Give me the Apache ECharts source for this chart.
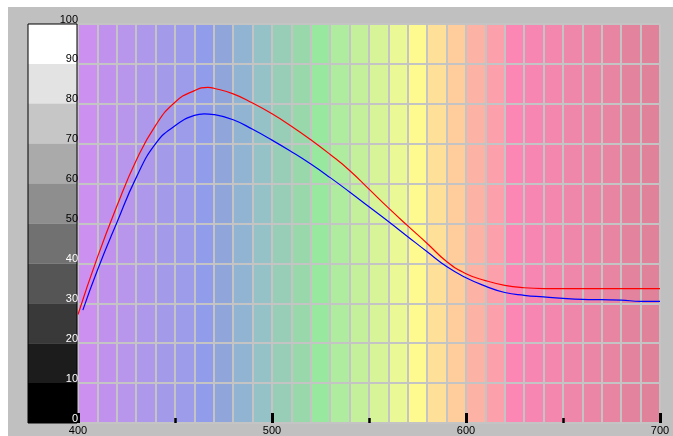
<!DOCTYPE html>
<html lang="en">
<head>
	<meta charset="UTF-8">
	<title>Spectrum</title>
	<style type="text/css">
		html, body{ margin:0; padding:0; background:#fff; }
		.box{ width:673px; height:436px; }
	</style>
</head>
<body>
	<div class="box" id="main"></div>
	<script type="text/javascript" src="https://cdn.jsdelivr.net/npm/echarts@6/dist/echarts.min.js"></script>
	<script type="text/javascript">
		// colour of each 10 nm column, 400..700
		var columnStart = [400,410,420,430,440,450,460,470,480,490,500,510,520,530,540,550,560,570,580,590,600,610,620,630,640,650,660,670,680,690];
		var columnColor = ['#cc90f0','#c092ee','#b796ec','#ad98ec','#a49aea','#9c9cea','#919cea','#90a6da','#90b4d2','#94c2c6',
			'#98ceb8','#98d8aa','#98e8a0','#b0eca0','#c4f09c','#d8f498','#eaf896','#fffa90','#ffe098','#ffcc9c',
			'#fdb2a6','#fca0ac','#fc86b4','#f787b2','#f387ae','#ef87aa','#eb86a6','#e785a2','#e3839e','#df829a'];
		// grey scale strip on the left, one band per 10 units
		var greyStart = [0,10,20,30,40,50,60,70,80,90];
		var greyColor = ['#000000','#1c1c1c','#393939','#555555','#717171','#8e8e8e','#aaaaaa','#c6c6c6','#e3e3e3','#ffffff'];

		// red curve
		var redWl  = [400,410,420,430,440,450,460,467,470,480,490,500,510,520,530,540,550,560,570,580,590,600,610,620,630,640,650,660,670,680,690,700];
		var redVal = [27.2,41.5,54.3,65.8,74.6,80.4,83.3,84.1,83.9,82.5,80.2,77.5,74.4,71,67.3,63.3,58.6,53.9,49.4,45,40.5,37.4,35.7,34.5,33.9,33.7,33.7,33.7,33.7,33.7,33.7,33.7];
		// blue curve
		var blueWl  = [402.5,410,420,430,440,450,460,465,470,480,490,500,510,520,530,540,550,560,570,580,590,600,610,620,630,640,650,660,670,680,690,700];
		var blueVal = [28.3,38.3,50.2,61.5,70,74.5,77.1,77.5,77.3,76,73.6,70.9,68,64.9,61.5,57.9,54.2,50.5,46.7,42.9,39.2,36.4,34.3,32.7,32,31.6,31.25,31,30.9,30.8,30.5,30.5];

		var myChart = echarts.init(document.getElementById('main'));

		function pairs(xs, ys){
			return xs.map(function (x, i){ return [x, ys[i]]; });
		}

		var columns = columnStart.map(function (s, i){
			return [{xAxis: s, itemStyle: {color: columnColor[i]}}, {xAxis: s + 10}];
		});
		var greys = greyStart.map(function (s, i){
			return [{xAxis: 0, yAxis: s, itemStyle: {color: greyColor[i]}}, {xAxis: 1, yAxis: s + 10}];
		});

		var font = "'Liberation Sans', sans-serif";

		var option = {
			animation: false,
			graphic: [{
				type: 'rect',
				z: -100,
				shape: {x: 8, y: 7, width: 665, height: 429},
				style: {fill: '#c0c0c0'}
			}],
			grid: [
				{left: 78, top: 24, width: 582, height: 400},
				{left: 28, top: 24, width: 49, height: 399, show: true, z: 4, borderColor: '#000', borderWidth: 1, backgroundColor: 'transparent'}
			],
			xAxis: [
				{
					gridIndex: 0, type: 'value', min: 400, max: 700, interval: 10, z: 3,
					axisLine: {show: false}, axisTick: {show: false}, axisLabel: {show: false},
					splitLine: {show: true, lineStyle: {color: '#c4c4c4', width: 2}}
				},
				{
					gridIndex: 0, type: 'value', min: 400, max: 700, interval: 100, position: 'bottom', z: 6,
					axisLine: {show: false},
					axisTick: {show: true, inside: true, length: 10, lineStyle: {color: '#000', width: 3}},
					minorTick: {show: true, splitNumber: 2, length: 5, lineStyle: {color: '#000', width: 2.5}},
					splitLine: {show: false},
					axisLabel: {show: true, color: '#000', fontSize: 11, fontFamily: font, margin: 2}
				},
				{gridIndex: 1, type: 'value', min: 0, max: 1, show: false}
			],
			yAxis: [
				{
					gridIndex: 0, type: 'value', min: 0, max: 100, interval: 10, z: 6,
					axisLine: {show: false}, axisTick: {show: false},
					splitLine: {show: true, lineStyle: {color: '#c4c4c4', width: 2}},
					axisLabel: {
						show: true, align: 'right', verticalAlign: 'bottom', margin: 0,
						fontSize: 11, lineHeight: 9, fontFamily: font,
						color: function (v){ return Number(v) >= 50 ? '#000' : '#fff'; }
					}
				},
				{gridIndex: 1, type: 'value', min: 0, max: 100, show: false}
			],
			series: [
				{
					type: 'line', xAxisIndex: 0, yAxisIndex: 0, z: 1,
					data: [], symbol: 'none', silent: true,
					markArea: {silent: true, data: columns}
				},
				{
					type: 'line', xAxisIndex: 2, yAxisIndex: 1, z: 1,
					data: [], symbol: 'none', silent: true,
					markArea: {silent: true, data: greys}
				},
				{
					name: 'red', type: 'line', xAxisIndex: 0, yAxisIndex: 0, z: 8,
					data: pairs(redWl, redVal), smooth: 0.5, symbol: 'none',
					lineStyle: {color: '#ff0000', width: 1.2}
				},
				{
					name: 'blue', type: 'line', xAxisIndex: 0, yAxisIndex: 0, z: 8,
					data: pairs(blueWl, blueVal), smooth: 0.5, symbol: 'none',
					lineStyle: {color: '#0000ff', width: 1.2}
				}
			]
		};
		myChart.setOption(option);
	</script>
</body>
</html>
